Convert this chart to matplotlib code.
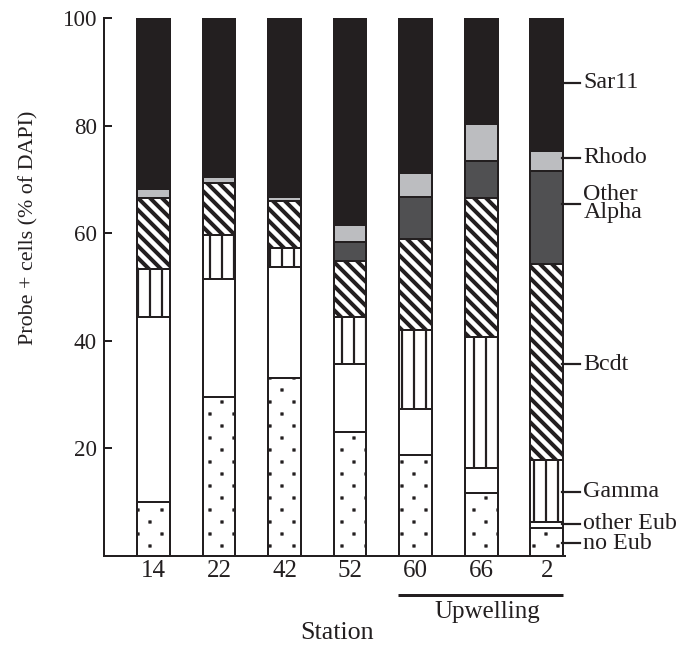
import matplotlib
matplotlib.use("Agg")
import matplotlib.pyplot as plt
import matplotlib.hatch as mhatch
from matplotlib.path import Path
import numpy as np

stations = ["14", "22", "42", "52", "60", "66", "2"]
groups = ["no Eub", "other Eub", "Gamma", "Bcdt", "Other\nAlpha", "Rhodo", "Sar11"]

no_eub = [10.0, 29.5, 33.0, 23.0, 18.7, 11.7, 5.2]
other_eub = [34.4, 22.0, 20.8, 12.7, 8.6, 4.6, 1.2]
gamma = [9.0, 8.1, 3.5, 8.7, 14.8, 24.4, 11.5]
bcdt = [13.1, 9.8, 8.6, 10.5, 16.9, 25.8, 36.3]
other_alpha = [0.0, 0.0, 0.0, 3.4, 7.8, 6.9, 17.4]
rhodo = [1.7, 1.1, 0.9, 3.3, 4.3, 6.9, 3.7]
sar11 = [31.8, 29.5, 33.2, 38.4, 28.9, 19.7, 24.7]

label_pos = [2.4, 6.0, 11.9, 35.6, 65.5, 74.0, 88.0]
yticks = [20, 40, 60, 80, 100]
upwelling_label = "Upwelling"


# sparse square-dot hatch (staggered grid) used for the '.' pattern
class SparseSquareDots(mhatch.HatchPatternBase):
    half = 1.3 / 72

    def __init__(self, hatch, density):
        centers = []
        if hatch.count('.'):
            for k in range(6):
                yc = 1 / 12 + k / 6
                xs = [1 / 12, 5 / 12, 9 / 12] if k % 2 == 0 else [3 / 12, 7 / 12, 11 / 12]
                centers += [(xc, yc) for xc in xs]
        self.centers = centers
        self.num_vertices = len(centers) * 5

    def set_vertices_and_codes(self, vertices, codes):
        h = self.half
        for i, (cx, cy) in enumerate(self.centers):
            vertices[i * 5:(i + 1) * 5] = [(cx - h, cy - h), (cx + h, cy - h),
                                           (cx + h, cy + h), (cx - h, cy + h),
                                           (cx - h, cy - h)]
            codes[i * 5:(i + 1) * 5] = [Path.MOVETO, Path.LINETO, Path.LINETO,
                                        Path.LINETO, Path.CLOSEPOLY]


mhatch._hatch_types = [SparseSquareDots if t is mhatch.SmallFilledCircles else t
                       for t in mhatch._hatch_types]

series = [no_eub, other_eub, gamma, bcdt, other_alpha, rhodo, sar11]
styles = [
    dict(color="white", hatch=".", hlw=0.5),
    dict(color="white", hatch=None, hlw=1.0),
    dict(color="white", hatch="|", hlw=2.2),
    dict(color="white", hatch="\\\\", hlw=4.0),
    dict(color="#505052", hatch=None, hlw=1.0),
    dict(color="#bcbdc0", hatch=None, hlw=1.0),
    dict(color="#231f20", hatch=None, hlw=1.0),
]

plt.rcParams["font.family"] = ["Liberation Serif", "DejaVu Serif"]
plt.rcParams["hatch.color"] = "#231f20"

DPI = 72
fig = plt.figure(figsize=(681 / DPI, 648 / DPI), dpi=DPI)
ax = fig.add_axes([104 / 681, 92 / 648, 461 / 681, 538 / 648])

x = np.arange(len(stations))
bottom = np.zeros(len(stations))
for vals, st in zip(series, styles):
    vals = np.array(vals)
    with plt.rc_context({"hatch.linewidth": st["hlw"]}):
        bars = ax.bar(x, vals, width=0.5, bottom=bottom, color=st["color"],
                      edgecolor="#231f20", linewidth=2.0, hatch=st["hatch"], zorder=2)
    for b in bars:
        if hasattr(b, "set_hatch_linewidth"):
            b.set_hatch_linewidth(st["hlw"])
    bottom = bottom + vals

ax.set_xlim(-0.756, 6.28)
ax.set_ylim(0, 100)
for s in ["top", "right"]:
    ax.spines[s].set_visible(False)
for s in ["left", "bottom"]:
    ax.spines[s].set_linewidth(2.0)
    ax.spines[s].set_color("#231f20")

ax.set_yticks(yticks)
ax.set_yticklabels([str(t) for t in yticks], fontsize=23, color="#231f20")
ax.tick_params(axis="y", direction="in", length=8, width=2, pad=7, color="#231f20")
ax.set_xticks(x)
ax.set_xticklabels(stations, fontsize=25, color="#231f20")
ax.tick_params(axis="x", length=0, pad=4)

ax.set_ylabel("Probe + cells (% of DAPI)", fontsize=22, color="#231f20")
ax.yaxis.set_label_coords(-0.143, 0.61)
ax.set_xlabel("Station", fontsize=26, color="#231f20")
ax.xaxis.set_label_coords(0.505, -0.122)

# right-side labels
x_edge = x[-1] + 0.25
for name, yv in zip(groups, label_pos):
    ax.plot([x_edge - 0.02, x_edge + 0.26], [yv, yv], color="#231f20", lw=2.2, clip_on=False)
    ax.text(x_edge + 0.31, yv, name, fontsize=24, va="center", ha="left",
            linespacing=0.85, color="#231f20")

# upwelling bracket
trans = ax.get_xaxis_transform()
ax.plot([3.73, 6.25], [-0.0725, -0.0725], color="#231f20", lw=3, transform=trans,
        clip_on=False, solid_capstyle="butt")
ax.text(5.09, -0.115, upwelling_label, fontsize=25, ha="center", va="baseline",
        transform=trans, color="#231f20")

fig.savefig("out.png", dpi=DPI)
